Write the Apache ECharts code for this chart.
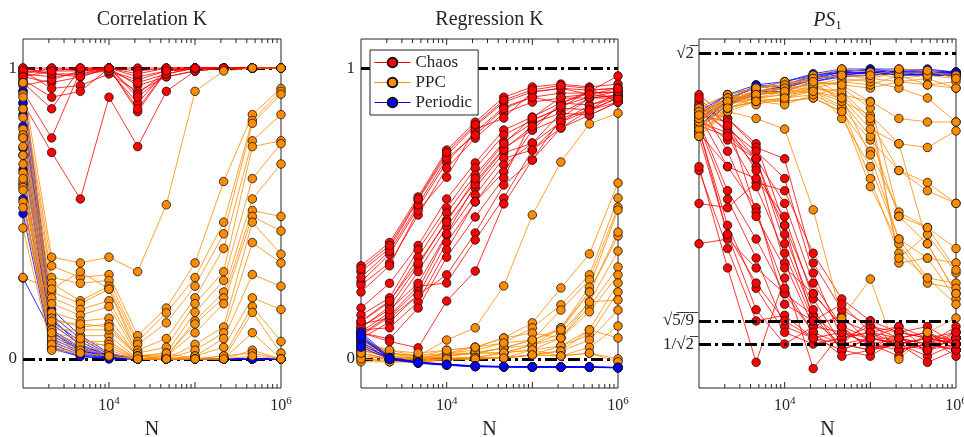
<!DOCTYPE html>
<html><head><meta charset="utf-8">
<script src="https://cdn.jsdelivr.net/npm/echarts@6/dist/echarts.min.js"></script>
<style>html,body{margin:0;padding:0;background:#fff}#c{width:964px;height:437px}</style>
</head><body><div id="c"></div>
<script>
// ---- data ----
const N = [1000, 2154, 4642, 10000, 21544, 46416, 100000, 215443, 464159, 1000000];
const xLabelExps = [4, 6];
const xMajorTicks = [10000, 100000];
const xMinorTicks = [2000,3000,4000,5000,6000,7000,8000,9000,20000,30000,40000,50000,60000,70000,80000,90000,200000,300000,400000,500000,600000,700000,800000,900000];
const titles = ['Correlation K', 'Regression K', '{i|PS}{s|1}'];
const legendNames = ['Chaos', 'PPC', 'Periodic'];
const refs1 = [0, 1];
const refs2 = [0, 1];
const refs3 = [Math.SQRT2, Math.sqrt(5/9), Math.SQRT1_2];
const refLabels3 = ['√2\u0305', '√5\u0305/\u03059\u0305', '1/√2\u0305'];

const corrChaos = [
[1.00,1.00,1.00,1.00,1.00,1.00,1.00,1.00,1.00,1.00],
[0.99,0.99,0.99,1.00,0.99,1.00,1.00,1.00,1.00,1.00],
[0.98,0.97,0.98,0.99,0.96,0.99,1.00,1.00,1.00,1.00],
[0.97,0.95,0.97,1.00,0.94,0.97,0.99,1.00,1.00,1.00],
[0.99,0.93,0.94,0.98,0.92,0.97,0.99,1.00,1.00,1.00],
[0.96,0.90,0.92,1.00,0.91,0.99,1.00,1.00,1.00,1.00],
[0.95,0.86,1.00,0.99,0.88,0.99,1.00,1.00,1.00,1.00],
[0.92,0.76,0.99,1.00,0.85,0.99,1.00,1.00,1.00,1.00],
[0.88,0.71,0.55,0.90,0.73,0.92,0.99,1.00,1.00,1.00],
[1.00,0.98,0.98,1.00,0.97,0.99,1.00,1.00,1.00,1.00],
[0.98,1.00,0.99,1.00,0.98,1.00,1.00,1.00,1.00,1.00],
[0.94,0.96,0.99,0.99,0.95,0.98,1.00,1.00,1.00,1.00],
[0.99,0.98,0.97,1.00,0.90,0.98,1.00,1.00,1.00,1.00],
[0.97,0.99,1.00,1.00,0.86,0.99,1.00,1.00,1.00,1.00]
];
const corrPPC = [
[0.95,0.35,0.33,0.35,0.30,0.53,0.92,0.99,1.00,1.00],
[0.91,0.32,0.28,0.29,0.08,0.175,0.33,0.61,0.84,0.93],
[0.90,0.28,0.26,0.27,0.06,0.158,0.28,0.47,0.82,0.92],
[0.86,0.26,0.20,0.25,0.05,0.124,0.25,0.43,0.81,0.91],
[0.83,0.23,0.19,0.24,0.03,0.07,0.21,0.38,0.75,0.84],
[0.79,0.21,0.17,0.20,0.02,0.04,0.19,0.30,0.73,0.75],
[0.77,0.19,0.15,0.18,0.01,0.02,0.16,0.27,0.62,0.74],
[0.76,0.16,0.13,0.14,0.01,0.01,0.13,0.23,0.55,0.67],
[0.73,0.14,0.11,0.12,0.01,0.01,0.12,0.21,0.51,0.49],
[0.67,0.12,0.08,0.08,0.00,0.01,0.09,0.19,0.49,0.44],
[0.64,0.08,0.06,0.06,0.00,0.00,0.05,0.11,0.47,0.36],
[0.61,0.06,0.04,0.03,0.00,0.00,0.03,0.09,0.40,0.33],
[0.59,0.04,0.02,0.01,0.00,0.00,0.01,0.07,0.29,0.25],
[0.58,0.10,0.10,0.10,0.01,0.00,0.01,0.04,0.21,0.17],
[0.54,0.07,0.05,0.05,0.00,0.00,0.00,0.01,0.18,0.06],
[0.52,0.05,0.03,0.02,0.00,0.00,0.00,0.00,0.16,0.02],
[0.45,0.03,0.02,0.01,0.00,0.00,0.00,0.00,0.09,0.00],
[0.28,0.24,0.30,0.24,0.01,0.02,0.00,0.00,0.03,0.00],
[0.70,0.13,0.12,0.11,0.01,0.00,0.00,0.01,0.02,0.00],
[0.62,0.09,0.07,0.04,0.00,0.00,0.00,0.00,0.01,0.00]
];
const corrPeriodic = [
[0.95,0.17,0.08,0.02,0,0,0,0,0,0],
[0.92,0.15,0.07,0.015,0,0,0,0,0,0],
[0.88,0.13,0.06,0.01,0,0,0,0,0,0],
[0.84,0.12,0.05,0.01,0,0,0,0,0,0],
[0.80,0.10,0.04,0.008,0,0,0,0,0,0],
[0.76,0.093,0.035,0.006,0,0,0,0,0,0],
[0.725,0.08,0.03,0.005,0,0,0,0,0,0],
[0.70,0.07,0.025,0.004,0,0,0,0,0,0],
[0.65,0.06,0.02,0.003,0,0,0,0,0,0],
[0.60,0.05,0.015,0.002,0,0,0,0,0,0],
[0.55,0.04,0.01,0.001,0,0,0,0,0,0],
[0.278,0.09,0.03,0.004,0,0,0,0,0,0],
[0.50,0.035,0.008,0,0,0,0,0,0,0],
[0.86,0.14,0.045,0.012,0,0,0,0,0,0]
];

const regChaos = [
[0.32,0.40,0.557,0.718,0.814,0.90,0.935,0.945,0.935,0.945],
[0.30,0.38,0.546,0.70,0.80,0.883,0.918,0.931,0.924,0.931],
[0.265,0.36,0.52,0.677,0.78,0.866,0.90,0.914,0.914,0.918],
[0.254,0.33,0.495,0.656,0.759,0.845,0.883,0.897,0.897,0.907],
[0.23,0.32,0.51,0.625,0.79,0.828,0.918,0.93,0.91,0.897],
[0.28,0.37,0.53,0.69,0.77,0.86,0.90,0.88,0.92,0.973],
[0.31,0.39,0.55,0.71,0.805,0.89,0.925,0.94,0.93,0.883],
[0.175,0.26,0.39,0.55,0.674,0.787,0.832,0.88,0.873,0.907],
[0.151,0.21,0.375,0.519,0.656,0.77,0.821,0.863,0.856,0.897],
[0.127,0.196,0.35,0.502,0.632,0.746,0.811,0.845,0.838,0.883],
[0.107,0.18,0.32,0.478,0.608,0.725,0.787,0.828,0.856,0.918],
[0.093,0.16,0.30,0.454,0.588,0.708,0.742,0.814,0.873,0.897],
[0.08,0.145,0.237,0.426,0.564,0.69,0.718,0.794,0.838,0.883],
[0.07,0.127,0.22,0.40,0.54,0.667,0.742,0.845,0.897,0.907],
[0.10,0.107,0.196,0.375,0.54,0.643,0.787,0.88,0.914,0.918],
[0.09,0.069,0.175,0.35,0.488,0.622,0.821,0.863,0.924,0.931],
[0.12,0.14,0.22,0.289,0.433,0.598,0.684,0.828,0.897,0.897],
[0.085,0.15,0.25,0.261,0.409,0.553,0.718,0.814,0.856,0.883],
[0.09,0.06,0.038,0.199,0.302,0.533,0.684,0.794,0.856,0.897],
[0.11,0.17,0.26,0.43,0.60,0.72,0.80,0.87,0.90,0.92],
[0.13,0.20,0.33,0.47,0.62,0.74,0.83,0.90,0.91,0.93]
];
const regPPC = [
[0.07,0.02,0.01,0.065,0.107,0.251,0.495,0.677,0.808,0.845],
[0.05,0.03,0.01,0.03,0.04,0.072,0.124,0.244,0.361,0.605],
[0.04,0.02,0.00,0.02,0.03,0.055,0.107,0.186,0.289,0.553],
[0.03,0.01,0.00,0.01,0.02,0.038,0.065,0.168,0.272,0.522],
[0.06,0.02,0.01,0.02,0.02,0.038,0.065,0.107,0.247,0.512],
[0.02,0.00,-0.005,0.01,0.02,0.021,0.048,0.107,0.23,0.423],
[0.01,0.00,-0.01,0.00,0.005,0.021,0.048,0.089,0.196,0.371],
[0.00,-0.005,-0.01,0.00,0.005,0.003,0.031,0.072,0.179,0.316],
[0.04,0.01,0.00,0.02,0.04,0.072,0.089,0.072,0.162,0.289],
[-0.01,-0.01,-0.01,0.00,0.005,0.003,0.014,0.045,0.10,0.261],
[0.03,0.01,0.00,0.01,0.02,0.021,0.031,0.045,0.082,0.23],
[0.05,0.02,0.005,0.015,0.02,0.038,0.048,0.072,0.196,0.203],
[0.02,0.00,0.00,0.00,0.005,0.003,0.014,0.027,0.065,0.168],
[0.01,0.00,-0.005,0.00,0.00,0.003,0.014,0.01,0.04,0.113],
[0.00,-0.01,-0.01,-0.005,0.00,0.003,0.014,0.027,0.10,0.072],
[0.03,0.005,0.00,0.005,0.005,0.021,0.031,0.01,0.02,0.00],
[0.02,0.00,-0.005,0.00,0.00,0.003,0.014,0.01,0.02,-0.01],
[0.06,0.03,0.02,0.03,0.04,0.055,0.065,0.10,0.23,0.436]
];
const regPeriodic = [
[0.093,0.005,-0.012,-0.02,-0.025,-0.027,-0.027,-0.027,-0.028,-0.03],
[0.08,0.0,-0.014,-0.021,-0.026,-0.027,-0.028,-0.028,-0.029,-0.03],
[0.07,0.003,-0.01,-0.019,-0.024,-0.026,-0.027,-0.027,-0.028,-0.029],
[0.06,-0.002,-0.015,-0.022,-0.027,-0.028,-0.028,-0.029,-0.029,-0.031],
[0.05,0.002,-0.012,-0.02,-0.025,-0.027,-0.027,-0.028,-0.028,-0.03],
[0.085,0.004,-0.011,-0.018,-0.024,-0.026,-0.027,-0.027,-0.028,-0.029],
[0.04,0.0,-0.013,-0.021,-0.026,-0.027,-0.028,-0.028,-0.029,-0.03],
[0.075,0.001,-0.013,-0.02,-0.025,-0.027,-0.028,-0.028,-0.028,-0.03]
];

const psChaos = [
[1.28,1.21,1.14,0.94,0.80,0.74,0.72,0.71,0.72,0.71],
[1.26,1.19,1.10,0.90,0.76,0.72,0.73,0.70,0.71,0.72],
[1.25,1.17,1.08,0.86,0.74,0.73,0.71,0.72,0.70,0.71],
[1.22,1.08,0.98,0.78,0.75,0.75,0.73,0.74,0.72,0.73],
[1.20,1.02,0.91,0.80,0.73,0.71,0.70,0.72,0.73,0.70],
[1.19,1.00,0.87,0.74,0.72,0.70,0.72,0.71,0.69,0.71],
[1.18,0.94,0.81,0.73,0.71,0.72,0.74,0.73,0.72,0.72],
[1.16,0.92,0.77,0.71,0.74,0.76,0.71,0.70,0.71,0.70],
[1.07,0.89,0.75,0.76,0.72,0.71,0.70,0.71,0.72,0.69],
[1.08,0.85,0.68,0.83,0.67,0.73,0.72,0.74,0.70,0.72],
[0.99,0.98,1.04,1.02,0.88,0.79,0.75,0.73,0.74,0.71],
[0.90,0.91,0.85,0.80,0.76,0.70,0.69,0.72,0.71,0.73],
[1.24,1.21,1.13,1.10,0.86,0.77,0.74,0.72,0.73,0.71],
[1.23,1.18,1.12,1.05,0.84,0.72,0.73,0.71,0.70,0.72],
[1.21,1.15,1.10,0.99,0.82,0.74,0.70,0.73,0.72,0.71],
[1.17,1.08,1.05,0.96,0.79,0.71,0.75,0.70,0.71,0.74],
[1.20,1.17,1.10,0.92,0.77,0.70,0.72,0.71,0.68,0.70],
[1.19,1.16,1.03,0.88,0.75,0.78,0.73,0.72,0.70,0.72],
[1.22,1.20,0.97,0.81,0.73,0.69,0.70,0.72,0.71,0.70],
[1.18,0.92,0.82,0.75,0.72,0.73,0.71,0.69,0.73,0.70],
[1.25,1.12,0.96,0.85,0.80,0.74,0.70,0.71,0.72,0.71],
[1.27,1.19,1.07,0.94,0.75,0.71,0.72,0.72,0.70,0.73]
];
const psPPC = [
[1.17,1.23,1.21,1.18,0.975,0.755,0.828,0.685,0.73,0.755],
[1.20,1.26,1.29,1.30,1.33,1.34,1.33,1.35,1.35,1.34],
[1.22,1.27,1.28,1.29,1.32,1.31,1.30,1.32,1.33,1.30],
[1.24,1.28,1.30,1.31,1.34,1.36,1.35,1.33,1.34,1.33],
[1.19,1.25,1.27,1.28,1.31,1.32,1.31,1.34,1.31,1.32],
[1.17,1.24,1.26,1.27,1.30,1.28,1.26,1.21,1.20,1.20],
[1.21,1.26,1.27,1.29,1.29,1.26,1.22,1.14,1.13,1.175],
[1.23,1.27,1.25,1.27,1.28,1.24,1.15,1.07,1.04,0.99],
[1.16,1.23,1.26,1.26,1.27,1.23,1.12,0.97,0.935,0.89],
[1.18,1.25,1.28,1.30,1.30,1.21,1.08,0.91,0.87,0.86],
[1.20,1.26,1.29,1.28,1.29,1.245,1.05,0.88,0.83,0.82],
[1.22,1.27,1.29,1.31,1.33,1.28,1.20,1.07,1.02,0.99],
[1.19,1.24,1.27,1.26,1.27,1.23,1.03,0.90,0.82,0.81],
[1.24,1.28,1.30,1.32,1.32,1.26,1.16,0.96,0.90,0.80],
[1.17,1.24,1.26,1.25,1.28,1.30,1.24,0.86,0.87,0.79],
[1.21,1.25,1.27,1.28,1.30,1.29,1.21,0.87,0.92,0.84],
[1.23,1.26,1.29,1.30,1.31,1.33,1.32,1.30,1.27,1.20],
[1.18,1.26,1.28,1.29,1.30,1.32,1.33,1.32,1.31,1.30],
[1.20,1.27,1.30,1.31,1.33,1.34,1.34,1.36,1.355,1.33],
[1.21,1.27,1.28,1.30,1.31,1.27,1.18,1.14,0.90,0.80],
[1.22,1.26,1.28,1.29,1.32,1.31,1.258,0.96,0.935,0.846],
[1.16,1.24,1.26,1.27,1.29,1.27,1.11,0.91,0.83,0.78]
];
const psPeriodic = [
[1.21,1.26,1.31,1.30,1.33,1.35,1.35,1.35,1.35,1.34],
[1.19,1.25,1.29,1.29,1.32,1.34,1.34,1.35,1.34,1.34],
[1.22,1.27,1.30,1.31,1.34,1.35,1.36,1.35,1.35,1.35],
[1.20,1.26,1.28,1.30,1.33,1.34,1.35,1.34,1.34,1.345],
[1.23,1.28,1.31,1.32,1.345,1.36,1.36,1.36,1.355,1.35],
[1.18,1.25,1.28,1.29,1.32,1.335,1.34,1.345,1.34,1.34],
[1.21,1.27,1.30,1.31,1.335,1.35,1.345,1.355,1.35,1.345],
[1.20,1.26,1.29,1.30,1.325,1.345,1.35,1.34,1.345,1.35],
[1.22,1.28,1.30,1.32,1.34,1.355,1.355,1.35,1.36,1.35],
[1.19,1.26,1.29,1.305,1.33,1.34,1.35,1.355,1.345,1.34]
];

// ---- chart ----
const FONT = '"Liberation Serif", "DejaVu Serif", serif';
const TXT = '#262626';
const COLORS = {Chaos: '#ff0000', PPC: '#ff8c00', Periodic: '#0000ff'};
const grids = [
  {left: 23, top: 39, width: 258, height: 349},
  {left: 361, top: 39, width: 257, height: 349},
  {left: 699, top: 39, width: 257, height: 349}
];
const yRange = [[-0.1, 1.1], [-0.1, 1.1], [0.64, 1.46]];
const yMid = [0.5, 0.5, 1.0];

const xAxes = grids.map((g, i) => ({
  type: 'log', logBase: 10, gridIndex: i, min: 1000, max: 1000000,
  axisLine: {show: false}, axisTick: {show: false}, splitLine: {show: false},
  axisLabel: {
    margin: 8, hideOverlap: false,
    formatter: v => {
      const e = Math.round(Math.log10(v));
      return xLabelExps.includes(e) ? '{b|10}{s|' + e + '}' : '';
    },
    rich: {
      b: {fontFamily: FONT, fontSize: 16, color: TXT},
      s: {fontFamily: FONT, fontSize: 11, color: TXT, padding: [0, 0, 9, 0]}
    }
  },
  name: 'N', nameLocation: 'middle', nameGap: 32,
  nameTextStyle: {fontFamily: FONT, fontSize: 20, color: TXT}
}));

const yAxes = grids.map((g, i) => {
  if (i < 2) return {
    type: 'value', gridIndex: i, min: yRange[i][0], max: yRange[i][1],
    axisLine: {show: false}, axisTick: {show: false}, splitLine: {show: false},
    axisLabel: {
      margin: 6, fontFamily: FONT, fontSize: 17, color: TXT,
      formatter: v => Math.abs(v) < 1e-9 ? '0' : (Math.abs(v - 1) < 1e-9 ? '1' : '')
    }
  };
  return {
    type: 'log', logBase: 10, gridIndex: i, min: yRange[i][0], max: yRange[i][1],
    axisLine: {show: false}, axisTick: {show: false}, splitLine: {show: false},
    axisLabel: {show: false}
  };
});

const series = [];
function addGroup(gi, name, trajs) {
  trajs.forEach(t => {
    series.push({
      type: 'line', name: name, xAxisIndex: gi, yAxisIndex: gi,
      data: N.map((n, k) => [n, t[k]]),
      symbol: 'circle', symbolSize: 8.5, showSymbol: true,
      lineStyle: {width: 0.8, color: COLORS[name]},
      itemStyle: {color: COLORS[name], borderColor: '#111', borderWidth: 0.8},
      emphasis: {disabled: true}, silent: true, animation: false, z: 2
    });
  });
}
function addRefs(gi, refs, labels, onTop) {
  series.push({
    type: 'line', xAxisIndex: gi, yAxisIndex: gi, data: [], silent: true,
    markLine: {
      silent: true, animation: false, symbol: ['none', 'none'], z: onTop ? 5 : 1,
      lineStyle: {color: '#000', width: 3.2, type: [12, 4, 3, 4]},
      label: {show: false},
      data: refs.map((v, k) => ({
        yAxis: v,
        label: labels ? {show: true, position: 'start', distance: 5, formatter: labels[k],
          fontFamily: FONT, fontSize: 17, color: TXT} : {show: false}
      }))
    }
  });
}
function addTicks(gi) {
  const all = xMinorTicks.concat(xMajorTicks);
  series.push({
    type: 'custom', xAxisIndex: gi, yAxisIndex: gi, silent: true, z: 6, animation: false,
    data: all.map(v => [v, yMid[gi]]),
    renderItem: (params, api) => {
      const v = api.value(0);
      const p = api.coord([v, api.value(1)]);
      const cs = params.coordSys;
      const L = xMajorTicks.includes(v) ? 6 : 4;
      const st = {stroke: TXT, lineWidth: 1};
      return {type: 'group', children: [
        {type: 'line', shape: {x1: p[0], y1: cs.y + cs.height, x2: p[0], y2: cs.y + cs.height - L}, style: st},
        {type: 'line', shape: {x1: p[0], y1: cs.y, x2: p[0], y2: cs.y + L}, style: st}
      ]};
    }
  });
}

addRefs(0, refs1, null, false);
addGroup(0, 'Chaos', corrChaos);
addGroup(0, 'Periodic', corrPeriodic);
addGroup(0, 'PPC', corrPPC);
addTicks(0);

addRefs(1, refs2, null, false);
addGroup(1, 'Chaos', regChaos);
addGroup(1, 'PPC', regPPC);
addGroup(1, 'Periodic', regPeriodic);
addTicks(1);

addGroup(2, 'Chaos', psChaos);
addGroup(2, 'Periodic', psPeriodic);
addGroup(2, 'PPC', psPPC);
addRefs(2, refs3, refLabels3, true);
addTicks(2);

const graphic = grids.map((g, i) => ({
  type: 'text', x: g.left + g.width / 2, y: 10, silent: true,
  style: {
    text: titles[i], align: 'center', verticalAlign: 'top',
    fontFamily: FONT, fontSize: 20, fill: TXT,
    rich: {
      i: {fontFamily: FONT, fontSize: 20, fontStyle: 'italic', fill: TXT, color: TXT},
      s: {fontFamily: FONT, fontSize: 13, fill: TXT, color: TXT, padding: [9, 0, 0, 0]}
    }
  }
}));

const chart = echarts.init(document.getElementById('c'));
chart.setOption({
  animation: false,
  backgroundColor: '#fff',
  grid: grids.map(g => Object.assign({show: true, borderColor: TXT, borderWidth: 1, backgroundColor: 'transparent', containLabel: false, outerBoundsMode: 'none'}, g)),
  xAxis: xAxes,
  yAxis: yAxes,
  legend: {
    data: legendNames, orient: 'vertical', left: 370, top: 50,
    itemWidth: 36, itemHeight: 12, itemGap: 3, padding: [4, 6, 4, 4],
    borderColor: TXT, borderWidth: 1, backgroundColor: '#fff', borderRadius: 0,
    selectedMode: false, z: 10,
    lineStyle: {width: 1},
    textStyle: {fontFamily: FONT, fontSize: 17, color: TXT}
  },
  graphic: graphic,
  series: series
});
</script></body></html>
